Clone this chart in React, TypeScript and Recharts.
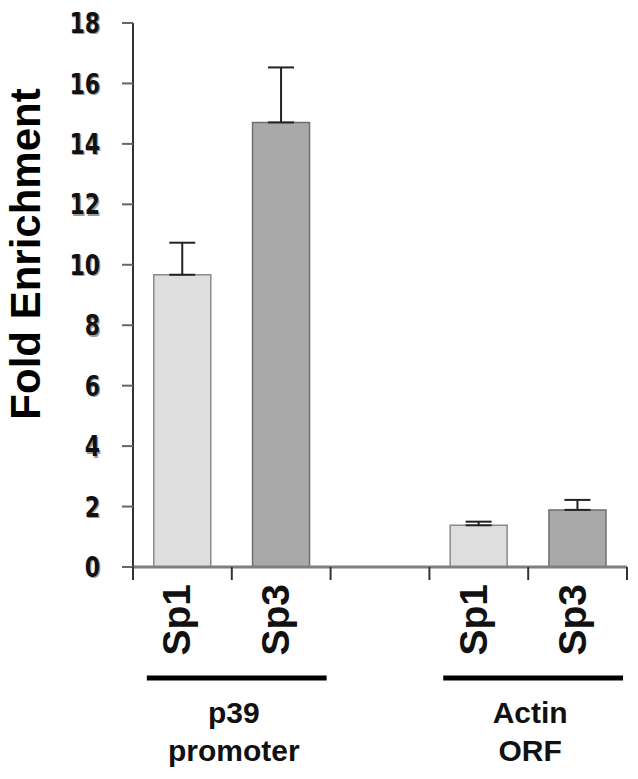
import { Bar, BarChart, Cell, ErrorBar, XAxis, YAxis } from 'recharts';

const categories = ['Sp1', 'Sp3', '', 'Sp1', 'Sp3'];
const groups = ['p39\npromoter', 'p39\npromoter', '', 'Actin\nORF', 'Actin\nORF'];
const enrichment = [9.67, 14.71, null, 1.38, 1.89];
const errorUp = [1.06, 1.82, null, 0.12, 0.33];
const yTicks = [0, 2, 4, 6, 8, 10, 12, 14, 16, 18];

const W = 638;
const H = 779;
const LEFT = 133;
const RIGHT = 11;
const TOP = 23;
const XAXIS_H = 212;
const PLOT_BOTTOM = H - XAXIS_H;
const BAND = (W - LEFT - RIGHT) / categories.length;

const barColors: Record<string, { fill: string; stroke: string }> = {
  Sp1: { fill: '#dedede', stroke: '#8a8a8a' },
  Sp3: { fill: '#a9a9a9', stroke: '#6e6e6e' },
};

const chartData = categories.map((name, i) => ({
  id: i,
  name,
  value: enrichment[i],
  err: errorUp[i] == null ? undefined : [0, errorUp[i]],
}));

function YTick({ x, y, payload }: any) {
  return (
    <g transform={`translate(${x}, ${y}) scale(1, 1.3)`}>
      <text
        x={0}
        y={0}
        textAnchor="end"
        dominantBaseline="central"
        fill="#111"
        fontSize={22}
        style={{
          fontFamily: '"DejaVu Sans", sans-serif',
          fontWeight: 700,
          fontSize: 22,
          textShadow: '1.5px 1.2px 0 #9a9a9a',
        }}
      >
        {payload.value}
      </text>
    </g>
  );
}

function CategoryTick({ x, index }: any) {
  const label = categories[index] ?? '';
  const group = groups[index];
  const last = index === categories.length - 1;
  const isGroupEnd = group !== '' && groups[index + 1] !== group;
  let groupEl = null;
  if (isGroupEnd) {
    let first = index;
    while (first > 0 && groups[first - 1] === group) first--;
    const x0 = x - (index - first) * BAND;
    const mid = (x0 + x) / 2;
    const lines = group.split('\n');
    groupEl = (
      <g>
        <line x1={x0 - BAND * 0.36} x2={x + BAND * 0.46} y1={PLOT_BOTTOM + 111} y2={PLOT_BOTTOM + 111} stroke="#000" strokeWidth={5} />
        {lines.map((t, k) => (
          <text
            key={k}
            x={mid + 2}
            y={PLOT_BOTTOM + 156 + k * 38}
            textAnchor="middle"
            fill="#111"
            fontSize={30}
            style={{ fontFamily: '"Liberation Sans", Arial, sans-serif', fontWeight: 700, fontSize: 30 }}
          >
            {t}
          </text>
        ))}
      </g>
    );
  }
  return (
    <g>
      <line x1={x - BAND / 2} x2={x - BAND / 2} y1={PLOT_BOTTOM} y2={PLOT_BOTTOM + 13} stroke="#333" strokeWidth={2} />
      {last && (
        <line x1={x + BAND / 2} x2={x + BAND / 2} y1={PLOT_BOTTOM} y2={PLOT_BOTTOM + 13} stroke="#333" strokeWidth={2} />
      )}
      {label && (
        <text
          x={x + 8}
          y={PLOT_BOTTOM + 17}
          transform={`rotate(-90, ${x + 8}, ${PLOT_BOTTOM + 17})`}
          textAnchor="end"
          fill="#111"
          fontSize={39}
          style={{ fontFamily: '"Liberation Sans", Arial, sans-serif', fontWeight: 700, fontSize: 39 }}
        >
          {label}
        </text>
      )}
      {groupEl}
    </g>
  );
}

export default function App() {
  return (
    <div style={{ position: 'absolute', left: 0, top: 0, width: W, height: H, background: '#fff' }}>
      <BarChart
        width={W}
        height={H}
        data={chartData}
        margin={{ top: TOP, right: RIGHT, left: 0, bottom: 0 }}
        barCategoryGap="21%"
      >
        <XAxis
          dataKey="id"
          type="category"
          height={XAXIS_H}
          tickLine={false}
          tickSize={0}
          tickMargin={0}
          interval={0}
          axisLine={{ stroke: '#7f7f7f', strokeWidth: 3 }}
          tick={<CategoryTick />}
        />
        <YAxis
          width={LEFT}
          domain={[0, 18]}
          ticks={yTicks}
          interval={0}
          tickSize={11}
          tickMargin={22}
          axisLine={{ stroke: '#333', strokeWidth: 2 }}
          tickLine={{ stroke: '#666', strokeWidth: 2 }}
          tick={<YTick />}
          label={{
            content: () => (
              <text
                x={40}
                y={254}
                transform="rotate(-90, 40, 254)"
                textAnchor="middle"
                fill="#000"
                fontSize={42}
                style={{ fontFamily: '"Liberation Sans", Arial, sans-serif', fontWeight: 700, fontSize: 42 }}
              >
                Fold Enrichment
              </text>
            ),
          }}
        />
        <Bar dataKey="value" isAnimationActive={false} strokeWidth={1.5}>
          {chartData.map((d) => (
            <Cell key={d.id} fill={barColors[d.name]?.fill ?? '#ccc'} stroke={barColors[d.name]?.stroke ?? '#888'} />
          ))}
          <ErrorBar dataKey="err" direction="y" width={13} stroke="#222" strokeWidth={2} isAnimationActive={false} />
        </Bar>
      </BarChart>
    </div>
  );
}
